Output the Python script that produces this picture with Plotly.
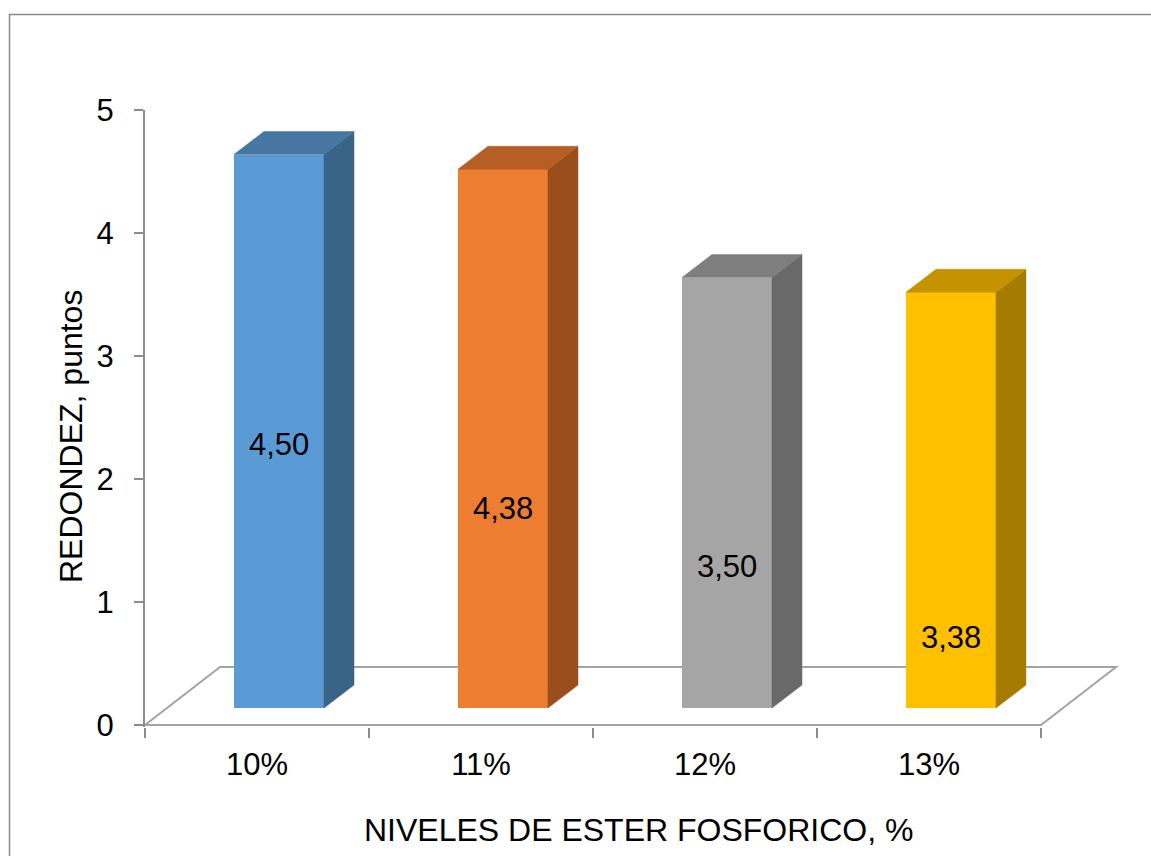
import plotly.graph_objects as go

# ---- data ----
categories = ["10%", "11%", "12%", "13%"]
values = [4.50, 4.38, 3.50, 3.38]
y_ticks = [0, 1, 2, 3, 4, 5]

front_colors = ["#5B9BD5", "#ED7D31", "#A5A5A5", "#FFC000"]
top_colors = ["#4676A2", "#B65F24", "#7E7E7E", "#C59300"]
side_colors = ["#3A6388", "#994E1C", "#696969", "#A67C00"]

# ---- layout constants (3-D pseudo perspective) ----
LABEL_Y = [2.28, 1.76, 1.29, 0.71]     # where the value labels sit
FRONT_DX = 0.098
BAR_W = 0.402
BASE = 0.138
DEPTH_X = 0.134
DEPTH_Y = 0.187
FLOOR_DX = 0.335
FLOOR_DY = 0.472
X_MAX = -0.5 + (1120 - 145) / 224
Y_MIN = 5 - (727 - 110) / 123

FONT = "Liberation Sans, Arial, sans-serif"

fig = go.Figure()

xs = [i + FRONT_DX for i in range(len(categories))]

# front faces
fig.add_trace(go.Bar(
    x=xs, y=values, base=BASE, width=BAR_W,
    marker=dict(color=front_colors, line=dict(width=0)),
    showlegend=False, hoverinfo="skip",
))

# side and top faces
for i, v in enumerate(values):
    xl = xs[i] - BAR_W / 2
    xr = xs[i] + BAR_W / 2
    yb = BASE
    yt = BASE + v
    fig.add_trace(go.Scatter(
        x=[xr, xr + DEPTH_X, xr + DEPTH_X, xr, xr],
        y=[yb, yb + DEPTH_Y, yt + DEPTH_Y, yt, yb],
        mode="lines", fill="toself", fillcolor=side_colors[i],
        line=dict(color=side_colors[i], width=0.5),
        showlegend=False, hoverinfo="skip",
    ))
    fig.add_trace(go.Scatter(
        x=[xl, xr, xr + DEPTH_X, xl + DEPTH_X, xl],
        y=[yt, yt, yt + DEPTH_Y, yt + DEPTH_Y, yt],
        mode="lines", fill="toself", fillcolor=top_colors[i],
        line=dict(color=top_colors[i], width=0.5),
        showlegend=False, hoverinfo="skip",
    ))

# value labels
for i, v in enumerate(values):
    fig.add_annotation(
        x=xs[i], y=LABEL_Y[i], xref="x", yref="y",
        text=f"{v:.2f}".replace(".", ","), showarrow=False,
        xanchor="center", yanchor="middle",
        font=dict(family=FONT, size=31, color="#000000"),
    )

n = len(categories)
floor_path = (f"M -0.5,0 L {n - 0.5},0 L {n - 0.5 + FLOOR_DX},{FLOOR_DY} "
              f"L {-0.5 + FLOOR_DX},{FLOOR_DY} Z")
fig.add_shape(type="path", path=floor_path, xref="x", yref="y",
              line=dict(color="#A3A3A3", width=2), layer="below")

# outer border
fig.add_shape(type="rect", xref="paper", yref="paper",
              x0=(9.5 - 145) / 975, x1=1.1, y0=-0.4, y1=(727 - 14.5) / 617,
              line=dict(color="#8A8A8A", width=1.5), layer="below")

# axis titles
fig.add_annotation(x=(71 - 145) / 975, y=(727 - 437) / 617, xref="paper", yref="paper",
                   text="REDONDEZ, puntos", textangle=-90, showarrow=False,
                   xanchor="center", yanchor="middle",
                   font=dict(family=FONT, size=32, color="#000000"))
fig.add_annotation(x=(638 - 145) / 975, y=(727 - 830) / 617, xref="paper", yref="paper",
                   text="NIVELES DE ESTER FOSFORICO, %", showarrow=False,
                   xanchor="center", yanchor="middle",
                   font=dict(family=FONT, size=32, color="#000000"))

fig.update_layout(
    width=1151, height=856,
    margin=dict(l=145, r=31, t=110, b=129),
    paper_bgcolor="white", plot_bgcolor="rgba(0,0,0,0)",
    bargap=0,
    xaxis=dict(
        range=[-0.5, X_MAX], tickvals=list(range(n)), ticktext=categories,
        ticks="", showgrid=False, zeroline=False, showline=False,
        tickfont=dict(family=FONT, size=31, color="#000000"),
        ticklabelstandoff=16,
        minor=dict(tickvals=[k - 0.5 for k in range(n + 1)], ticks="outside",
                   ticklen=10, tickwidth=2, tickcolor="#8C8C8C", showgrid=False),
    ),
    yaxis=dict(
        range=[Y_MIN, 5], tickvals=y_ticks, ticks="outside", ticklen=9,
        tickwidth=2, tickcolor="#8C8C8C", showline=True, linecolor="#8C8C8C",
        linewidth=2, showgrid=False, zeroline=False,
        tickfont=dict(family=FONT, size=31, color="#000000"),
        ticklabelstandoff=14,
    ),
)

fig.write_html("out.html")
